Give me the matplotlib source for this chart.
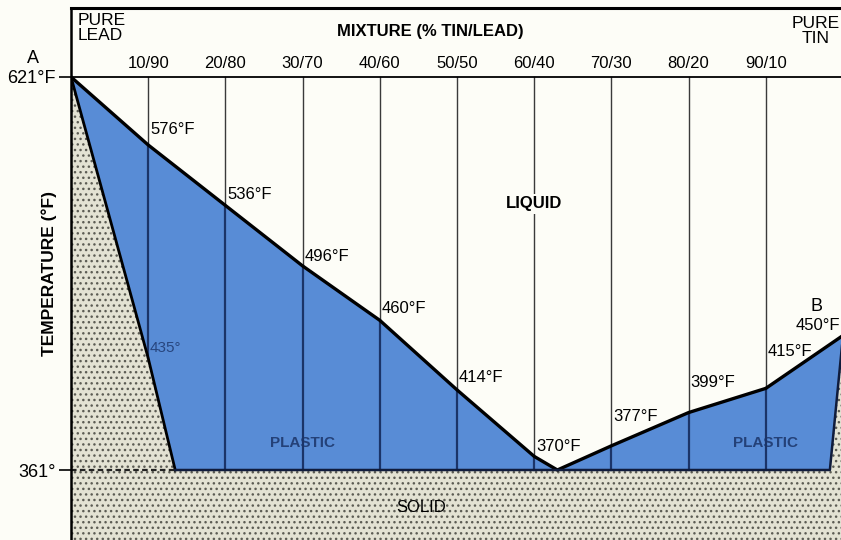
import matplotlib.pyplot as plt
import numpy as np

plt.rcParams['font.family'] = ['Liberation Sans', 'DejaVu Sans']

# tin/lead mixtures (% tin)
mix = [10, 20, 30, 40, 50, 60, 70, 80, 90]
mix_labels = ["10/90", "20/80", "30/70", "40/60", "50/50",
              "60/40", "70/30", "80/20", "90/10"]

# liquidus: above this line the solder is liquid
liq_x = [0, 10, 20, 30, 40, 50, 60, 63, 70, 80, 90, 100]
liq_t = [621, 576, 536, 496, 460, 414, 370, 361, 377, 399, 415, 450]

# solidus: below this line it is solid
sol_x = [0, 10, 13.5, 98.3, 100]
sol_t = [621, 435, 361, 361, 450]

t_eutectic = 361

# vertical nudge (points) for the temperature labels
lab_dy = [11, 8, 6.5, 8.5, 9, 7, 21, 21.5, 26.5]

bg = '#fdfdf7'
blue = '#588cd6'
navy = '#1b3468'
solid_bg = '#e3e2d3'

fig = plt.figure(figsize=(8.41, 5.40), dpi=100, facecolor=bg)
ax = fig.add_axes([71 / 841, 0, 772 / 841, 532 / 540], facecolor=bg)
ax.set_xlim(0, 100)
ax.set_ylim(314.7, 666.6)
y0 = ax.get_ylim()[0]

# solid region (dotted)
ax.fill(sol_x + [100, 0], sol_t + [y0, y0], facecolor=solid_bg,
        edgecolor='#5c5c54', hatch='...', lw=0)

# plastic region between liquidus and solidus
ax.fill(liq_x + sol_x[::-1], liq_t + sol_t[::-1], color=blue, lw=0)

# mixture lines
for x, lab in zip(mix, mix_labels):
    t_liq = liq_t[liq_x.index(x)]
    t_sol = np.interp(x, sol_x, sol_t)
    ax.plot([x, x], [621, t_liq], color='#3a3a3a', lw=1.0)
    ax.plot([x, x], [t_liq, t_sol], color=navy, lw=1.6)
    ax.annotate(lab, (x, 621), xytext=(0, 4), textcoords='offset points',
                ha='center', va='bottom', fontsize=12)

ax.axhline(621, color='k', lw=1.3)

# curves
ax.plot(liq_x, liq_t, color='k', lw=2.4)
ax.plot(sol_x[:3], sol_t[:3], color='k', lw=2.0)
ax.plot(sol_x[2:], sol_t[2:], color='#101c3c', lw=1.8)
ax.plot([0, sol_x[2]], [t_eutectic, t_eutectic], color='#222222', lw=1.6,
        ls=(0, (2.5, 1.5)))

# temperatures on the liquidus
for x, dy in zip(mix, lab_dy):
    t = liq_t[liq_x.index(x)]
    ax.annotate(f"{t}°F", (x, t), xytext=(1.5, dy), textcoords='offset points',
                ha='left', va='center', fontsize=12)

# solidus temperature at 10/90
ax.annotate(f"{sol_t[1]}°", (sol_x[1], sol_t[1]), xytext=(1, 7),
            textcoords='offset points', ha='left', va='center',
            fontsize=11, color=navy, alpha=0.8)

# end points
ax.annotate("A", (0, liq_t[0]), xytext=(-27.4, 13), textcoords='offset points',
            ha='center', va='center', fontsize=13, annotation_clip=False)
ax.annotate("B", (100, liq_t[-1]), xytext=(-19.4, 21), textcoords='offset points',
            ha='center', va='center', fontsize=13, annotation_clip=False)
ax.annotate(f"{liq_t[-1]}°F", (100, liq_t[-1]), xytext=(-2, 7),
            textcoords='offset points', ha='right', va='center', fontsize=12,
            annotation_clip=False)

# region names
ax.text(60, 537, "LIQUID", ha='center', va='center', fontsize=12,
        fontweight='bold', bbox=dict(facecolor=bg, edgecolor='none', pad=2))
ax.text(30, 379, "PLASTIC", ha='center', va='center', fontsize=11,
        fontweight='bold', color=navy, alpha=0.85)
ax.text(90, 379, "PLASTIC", ha='center', va='center', fontsize=11,
        fontweight='bold', color=navy, alpha=0.85)
ax.text(45.3, 336, "SOLID", ha='center', va='center', fontsize=12)

# header
ax.annotate("PURE\nLEAD", (0, 621), xytext=(5, 46), textcoords='offset points',
            ha='left', va='top', fontsize=12.5, linespacing=1.0)
ax.annotate("PURE\nTIN", (100, 621), xytext=(-20, 44), textcoords='offset points',
            ha='center', va='top', multialignment='center', fontsize=12.5,
            linespacing=1.0, annotation_clip=False)
ax.text(0.465, 0.955, "MIXTURE (% TIN/LEAD)", transform=ax.transAxes,
        ha='center', va='center', fontsize=12, fontweight='bold')

# axes
ax.set_xticks([])
ax.set_yticks([621, 361], ["621°F", "361°"])
ax.tick_params(axis='y', length=9, width=1.2, pad=2, labelsize=13)
ax.set_ylabel("TEMPERATURE (°F)", fontsize=12.5, fontweight='bold')
ax.yaxis.set_label_coords(-0.018, 0.5)
ax.spines['right'].set_visible(False)
ax.spines['bottom'].set_visible(False)
ax.spines['top'].set_linewidth(2.2)
ax.spines['left'].set_linewidth(1.8)

fig.savefig("out.png", dpi=100, facecolor=bg)
